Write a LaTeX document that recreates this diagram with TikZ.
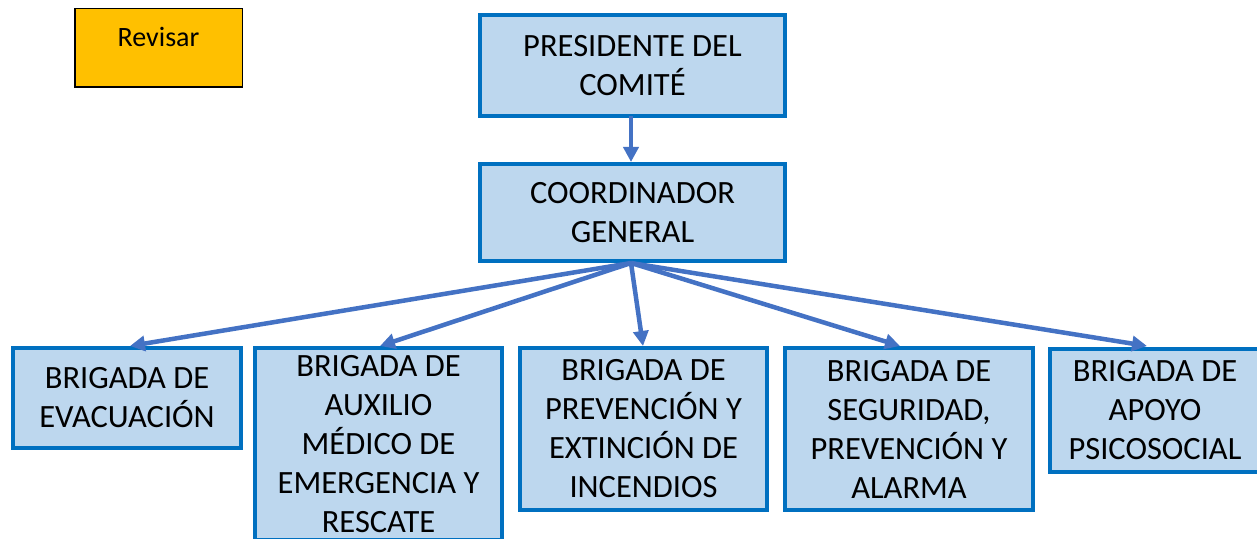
\documentclass[tikz,border=0pt]{standalone}
\usepackage{fontspec}
\setmainfont{Carlito}
\usetikzlibrary{arrows.meta}
\definecolor{boxfill}{HTML}{BDD7EE}
\definecolor{boxline}{HTML}{0070C0}
\definecolor{arrowblue}{HTML}{4472C4}
\definecolor{revisarfill}{HTML}{FFC000}
\tikzset{
  orgbox/.style={rectangle, draw=boxline, line width=4pt, fill=boxfill, inner sep=0pt,
    align=center, font=\fontsize{32.5}{39}\selectfont, text=black},
  orgarrow/.style={draw=arrowblue, line width=4.5pt, -{Triangle[length=15pt,width=15pt]}},
  notebox/.style={rectangle, draw=black, line width=1.5pt, fill=revisarfill, inner sep=0pt}
}
\begin{document}
\begin{tikzpicture}[x=1pt,y=1pt]
\clip (0,0) rectangle (1257,538);
\fill[white] (0,0) rectangle (1257,538);
% note box
\node[notebox, minimum width=167.5pt, minimum height=78.5pt] (rev) at (158.5,490) {};
\node[font=\fontsize{28}{34}\selectfont, anchor=base] (revtxt) at (158.5,491) {Revisar};
% main boxes
\node[orgbox, minimum width=305pt, minimum height=101pt] (pres) at (632.5,472.5) {PRESIDENTE DEL\\COMITÉ};
\node[orgbox, minimum width=305pt, minimum height=97pt] (coord) at (632.5,325.5) {COORDINADOR\\GENERAL};
\node[orgbox, minimum width=228pt, minimum height=100pt] (b1) at (127,140) {BRIGADA DE\\EVACUACIÓN};
\node[orgbox, minimum width=247pt, minimum height=192pt] (b2) at (378.5,94) {BRIGADA DE\\AUXILIO\\MÉDICO DE\\EMERGENCIA Y\\RESCATE};
\node[orgbox, minimum width=247pt, minimum height=162pt] (b3) at (643.5,109) {BRIGADA DE\\PREVENCIÓN Y\\EXTINCIÓN DE\\INCENDIOS};
\node[orgbox, minimum width=248pt, minimum height=162pt] (b4) at (909,109) {BRIGADA DE\\SEGURIDAD,\\PREVENCIÓN Y\\ALARMA};
\node[orgbox, minimum width=210pt, minimum height=123pt] (b5) at (1155,127.5) {BRIGADA DE\\APOYO\\PSICOSOCIAL};
% arrow targets
\coordinate (src) at (631,275);
\coordinate (t1) at (130,192);
\coordinate (t2) at (380,192);
\coordinate (t3) at (643,192);
\coordinate (t4) at (900,192);
\coordinate (t5) at (1147,192);
\coordinate (ps) at (631,422);
\coordinate (cn) at (631,376);
\draw[orgarrow] (ps) -- (cn);
\draw[orgarrow] (src) -- (t1);
\draw[orgarrow] (src) -- (t2);
\draw[orgarrow] (src) -- (t3);
\draw[orgarrow] (src) -- (t4);
\draw[orgarrow] (src) -- (t5);
\end{tikzpicture}
\end{document}
